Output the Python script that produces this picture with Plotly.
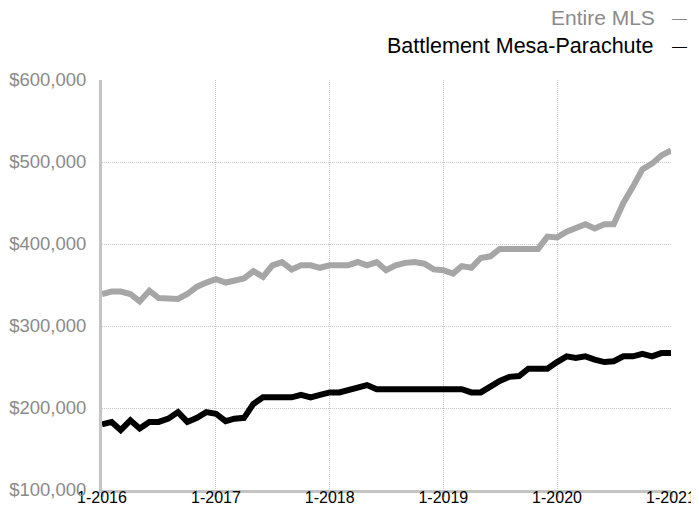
import plotly.graph_objects as go

months = [f"{2016 + i // 12}-{i % 12 + 1:02d}-01" for i in range(61)]

entire_mls = [
    339000, 342000, 342000, 339000, 330000, 343000, 334000, 333000, 333000, 339000,
    348000, 353000, 357000, 353000, 356000, 358000, 367000, 360000, 374000, 378000,
    369000, 374000, 374000, 371000, 374000, 374000, 374000, 378000, 374000, 378000,
    368000, 374000, 377000, 378000, 376000, 369000, 368000, 364000, 373000, 371000,
    383000, 385000, 394000, 394000, 394000, 394000, 394000, 409000, 408000, 415000,
    420000, 424000, 419000, 424000, 424000, 450000, 470000, 491000, 498000, 508000,
    514000,
]

battlement = [
    180000, 183000, 173000, 185000, 175000, 183000, 183000, 187000, 195000, 183000,
    188000, 195000, 193000, 184000, 187000, 188000, 205000, 213000, 213000, 213000,
    213000, 216000, 213000, 216000, 219000, 219000, 222000, 226000, 228000, 223000,
    223000, 223000, 223000, 223000, 223000, 223000, 223000, 223000, 223000, 219000,
    219000, 226000, 233000, 238000, 239000, 248000, 248000, 248000, 256000, 263000,
    261000, 263000, 259000, 256000, 257000, 263000, 263000, 266000, 263000, 267000,
    267000,
]

tick_vals = ["2016-01-01", "2017-01-01", "2018-01-01", "2019-01-01", "2020-01-01", "2021-01-01"]
tick_text = ["1-2016", "1-2017", "1-2018", "1-2019", "1-2020", "1-2021"]
y_ticks = [100000, 200000, 300000, 400000, 500000, 600000]
y_text = ["$100,000", "$200,000", "$300,000", "$400,000", "$500,000", "$600,000"]

FONT = "Liberation Sans, Arial, Helvetica, sans-serif"
GRAY_TEXT = "#8a8a8a"

fig = go.Figure()
fig.add_trace(go.Scatter(x=months, y=entire_mls, mode="lines", name="Entire MLS",
                         line=dict(color="#a6a6a6", width=6), showlegend=False))
fig.add_trace(go.Scatter(x=months, y=battlement, mode="lines", name="Battlement Mesa-Parachute",
                         line=dict(color="#000000", width=6), showlegend=False))

# page body has an 8px default margin; plot area targeted at x 102..671, y 80..490
fig.update_layout(
    width=691, height=517,
    margin=dict(l=94, r=28, t=72, b=35),
    paper_bgcolor="white", plot_bgcolor="white",
    font=dict(family=FONT, size=15, color="#000"),
    showlegend=False,
)
fig.update_xaxes(
    range=["2016-01-01", "2021-01-01"], automargin=False,
    tickmode="array", tickvals=tick_vals, ticktext=tick_text,
    showline=True, linecolor="#c4c4c4", linewidth=3,
    ticks="outside", ticklen=4, tickwidth=3, tickcolor="#c4c4c4",
    ticklabelstandoff=-13, ticklabeloverflow="allow",
    showgrid=True, gridcolor="#c8c8c8", gridwidth=1, griddash="1px,1px",
    tickfont=dict(size=16, color="#000"),
    zeroline=False,
)
fig.update_yaxes(
    range=[100000, 600000], automargin=False,
    tickmode="array", tickvals=y_ticks, ticktext=y_text,
    showline=True, linecolor="#c4c4c4", linewidth=3,
    ticks="", ticklabelstandoff=9,
    showgrid=True, gridcolor="#c8c8c8", gridwidth=1, griddash="1px,1px",
    tickfont=dict(size=18.5, color=GRAY_TEXT),
    zeroline=False,
)

def px_x(v):
    return (v - 102) / 569

def px_y(v):
    return (490 - v) / 410

annotations = [
    dict(text="Rolling 12-Month Calculation", xref="paper", yref="paper",
         x=px_x(10), y=px_y(5), xanchor="left", yanchor="bottom",
         showarrow=False, font=dict(family=FONT, size=22, color="#000")),
    dict(text="Entire MLS", xref="paper", yref="paper",
         x=px_x(657), y=px_y(17.5), xanchor="right", yanchor="middle",
         showarrow=False, font=dict(family=FONT, size=21, color=GRAY_TEXT)),
    dict(text="\u2014", xref="paper", yref="paper",
         x=px_x(679.5), y=px_y(17.5), xanchor="center", yanchor="middle",
         showarrow=False, font=dict(family=FONT, size=15, color=GRAY_TEXT)),
    dict(text="Battlement Mesa-Parachute", xref="paper", yref="paper",
         x=px_x(656), y=px_y(46.5), xanchor="right", yanchor="middle",
         showarrow=False, font=dict(family=FONT, size=21.5, color="#000")),
    dict(text="\u2014", xref="paper", yref="paper",
         x=px_x(679.5), y=px_y(46), xanchor="center", yanchor="middle",
         showarrow=False, font=dict(family=FONT, size=15, color="#000")),
]
fig.update_layout(annotations=annotations)

fig.write_html("out.html")
